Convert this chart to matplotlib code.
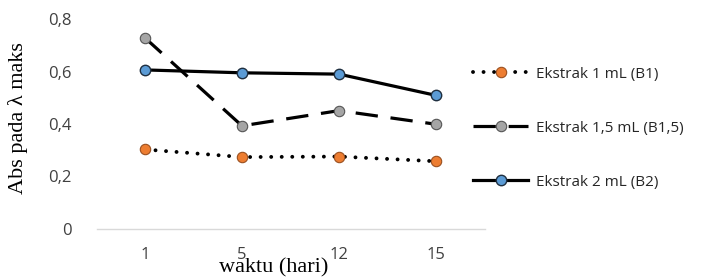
import matplotlib
matplotlib.use("Agg")
import matplotlib.pyplot as plt

days = ["1", "5", "12", "15"]
b1 = [0.303, 0.274, 0.276, 0.258]
b15 = [0.728, 0.393, 0.451, 0.399]
b2 = [0.606, 0.595, 0.590, 0.509]
yticks = [0, 0.2, 0.4, 0.6, 0.8]
ytick_labels = ["0", "0,2", "0,4", "0,6", "0,8"]

fig = plt.figure(figsize=(7.02, 2.78), dpi=100)
ax = fig.add_axes([96.5 / 702, 49 / 278, 388 / 702, 210 / 278])

x = range(len(days))
ax.plot(x, b1, color="black", lw=2.8, ls=(0, (0.01, 2.7)), dash_capstyle="round",
        marker="o", ms=7.5, mfc="#ED7D31", mec="#9a5020", mew=0.8,
        label="Ekstrak 1 mL (B1)")
ax.plot(x, b15, color="black", lw=2.3, ls=(0, (7, 4)),
        marker="o", ms=7.5, mfc="#A5A5A5", mec="#555555", mew=0.8,
        label="Ekstrak 1,5 mL (B1,5)")
ax.plot(x, b2, color="black", lw=2.3, ls="-",
        marker="o", ms=7.5, mfc="#5B9BD5", mec="#1f2f40", mew=1.0,
        label="Ekstrak 2 mL (B2)")

ax.set_xlim(-0.5, 3.5)
ax.set_ylim(0, 0.8)
ax.set_xticks(list(x))
ax.set_xticklabels(days, family="Open Sans", fontsize=12, color="#404040")
ax.set_yticks(yticks)
ax.set_yticklabels(ytick_labels, family="Open Sans", fontsize=12, color="#404040")
ax.tick_params(length=0)
ax.tick_params(axis="y", pad=18)
ax.tick_params(axis="x", pad=13)

for s in ["top", "right", "left"]:
    ax.spines[s].set_visible(False)
ax.spines["bottom"].set_color("#d9d9d9")
ax.spines["bottom"].set_linewidth(1.0)

ax.set_xlabel("waktu (hari)", family="Liberation Serif", fontsize=16)
ax.xaxis.set_label_coords(0.457, -0.14)
ax.xaxis.label.set_va("top")
ax.set_ylabel("Abs pada λ maks", family="Liberation Serif", fontsize=16)
ax.yaxis.set_label_coords(-0.176, 0.53)

leg = ax.legend(loc="center left", bbox_to_anchor=(0.955, 0.48), frameon=False,
                prop={"family": "Open Sans", "size": 11}, labelspacing=2.55,
                handlelength=3.6, handletextpad=0.5, borderaxespad=0.0)
for t in leg.get_texts():
    t.set_color("#262626")

fig.savefig("out.png", dpi=100)
